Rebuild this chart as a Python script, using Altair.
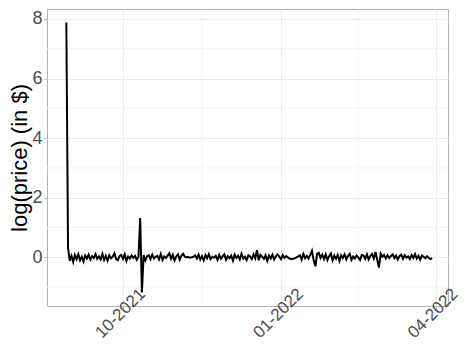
import altair as alt
import pandas as pd

start_date = "2021-08-29"
log_returns = [
    7.88, 0.32, -0.12, 0.05, -0.15, 0.08, -0.06, 0.10, -0.10, 0.02,
    -0.14, 0.06, -0.04, 0.09, -0.08, 0.04, -0.02, 0.11, -0.05, 0.03,
    -0.07, 0.12, -0.09, 0.05, -0.11, 0.07, -0.03, 0.02, 0.13, -0.06,
    -0.10, 0.04, 0.08, -0.05, 0.10, -0.12, 0.03, -0.04, 0.06, -0.02,
    0.05, -0.08, 0.02, 1.32, -1.18, 0.08, -0.10, 0.04, 0.07, -0.06,
    0.09, -0.04, 0.02, 0.05, -0.07, 0.11, -0.09, 0.03, -0.02, 0.06,
    0.14, -0.05, 0.08, -0.11, 0.03, 0.10, -0.08, 0.05, 0.12, 0.02,
    0.00, 0.01, -0.01, 0.00, 0.02, 0.06, -0.04, 0.09, -0.07, 0.04,
    -0.10, 0.07, -0.03, 0.11, -0.06, 0.02, -0.01, 0.05, -0.09, 0.08,
    -0.05, 0.03, 0.10, -0.08, 0.04, -0.03, 0.06, -0.11, 0.09, -0.02,
    0.05, -0.07, 0.12, -0.04, 0.02, -0.09, 0.07, 0.03, -0.06, 0.10,
    -0.03, 0.24, -0.10, 0.08, 0.02, -0.05, 0.07, -0.12, 0.06, -0.04,
    0.09, -0.07, 0.03, 0.10, 0.02, -0.06, 0.08, -0.02, 0.04, 0.00,
    -0.04, -0.06, -0.05, -0.03, 0.00, 0.03, 0.07, -0.08, 0.11, -0.03,
    0.05, -0.04, 0.08, 0.22, -0.10, -0.30, 0.12, 0.15, -0.02, 0.09,
    -0.06, 0.10, -0.09, 0.04, 0.13, -0.10, 0.06, -0.05, 0.08, -0.12,
    0.07, -0.02, 0.10, -0.07, 0.05, 0.12, -0.08, 0.03, -0.04, 0.06,
    0.00, -0.09, 0.08, 0.06, -0.05, 0.10, -0.07, 0.04, 0.11, -0.04,
    0.18, -0.08, -0.34, 0.12, 0.02, 0.08, -0.04, 0.07, -0.02, 0.05,
    0.10, -0.03, 0.06, -0.07, 0.04, 0.09, -0.05, 0.07, -0.01, 0.03,
    -0.06, 0.08, -0.02, 0.11, -0.04, 0.05, -0.08, 0.06, 0.02, -0.03,
    0.04, -0.02, -0.06, -0.03,
]
x_tick_dates = [(2021, 10, 1), (2022, 1, 1), (2022, 4, 1)]
x_minor_dates = ["2021-11-16", "2022-02-15"]
y_ticks = [0, 2, 4, 6, 8]
y_minor = [-1, 1, 3, 5, 7]
y_title = "log(price) (in $)"

dates = pd.date_range(start_date, periods=len(log_returns), freq="D")
df = pd.DataFrame({"date": dates, "value": log_returns})

x_domain = [
    alt.DateTime(year=2021, month=8, date=17, hours=18),
    alt.DateTime(year=2022, month=4, date=8, hours=5),
]
y_domain = [-1.633, 8.333]

x_scale = alt.Scale(domain=x_domain, nice=False)
y_scale = alt.Scale(domain=y_domain, nice=False, zero=False)

font = "Liberation Sans"

line = alt.Chart(df).mark_line(color="black", strokeWidth=2).encode(
    x=alt.X(
        "date:T",
        scale=x_scale,
        title=None,
        axis=alt.Axis(
            values=[alt.DateTime(year=y, month=m, date=d) for (y, m, d) in x_tick_dates],
            format="%m-%Y",
            labelAngle=315,
            labelAlign="center",
            labelBaseline="middle",
            labelPadding=4,
            labelOffset=-3,
            labelFontSize=17,
            labelColor="#4D4D4D",
            labelFont=font,
            tickSize=3,
            tickColor="#B3B3B3",
            domain=False,
            grid=True,
            gridColor="#EBEBEB",
            gridWidth=1,
            labelOverlap=False,
            labelFlush=False,
        ),
    ),
    y=alt.Y(
        "value:Q",
        scale=y_scale,
        title=y_title,
        axis=alt.Axis(
            values=y_ticks,
            labelFontSize=18,
            labelColor="#4D4D4D",
            labelFont=font,
            labelPadding=2,
            tickSize=3,
            tickColor="#B3B3B3",
            domain=False,
            grid=True,
            gridColor="#EBEBEB",
            gridWidth=1,
            titleFontSize=22,
            titleFont=font,
            titleFontWeight="normal",
            titleColor="black",
            titlePadding=0,
        ),
    ),
)

y_minor_rules = alt.Chart(pd.DataFrame({"value": y_minor})).mark_rule(
    color="#F4F4F4", strokeWidth=1
).encode(y=alt.Y("value:Q", scale=y_scale))

x_minor_rules = alt.Chart(pd.DataFrame({"date": pd.to_datetime(x_minor_dates)})).mark_rule(
    color="#F4F4F4", strokeWidth=1
).encode(x=alt.X("date:T", scale=x_scale))

chart = alt.layer(y_minor_rules, x_minor_rules, line).properties(
    width=401,
    height=297,
    autosize=alt.AutoSizeParams(type="none"),
    padding={"left": 39, "top": 1, "right": 13, "bottom": 37},
).configure_view(stroke="#B3B3B3", strokeWidth=1)

chart.save("out.html", embed_options={"renderer": "svg", "actions": False})
